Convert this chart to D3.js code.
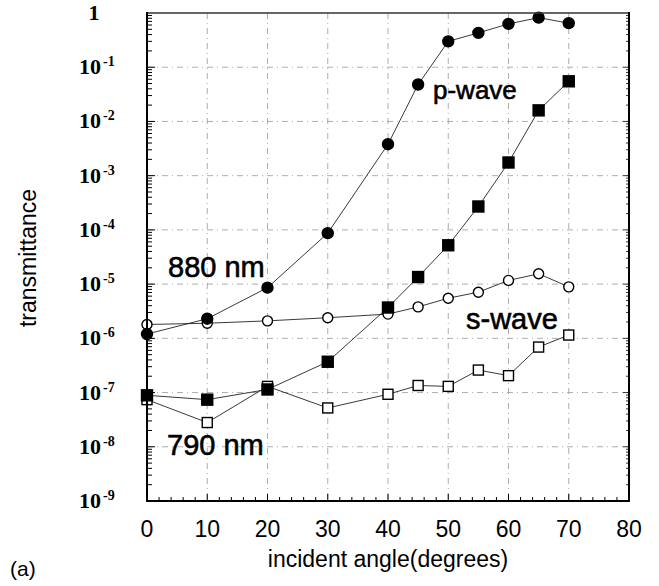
<!DOCTYPE html>
<html lang="en">
<head>
<meta charset="UTF-8">
<title>transmittance</title>
<script src="https://d3js.org/d3.v7.min.js"></script>
<style>
    body { margin: 0; background: #fff; }
    svg { display: block; }
    .grid line { stroke: #999; stroke-width: .8; stroke-dasharray: 6, 4, 1, 4; }
    .series { fill: none; stroke: #222; stroke-width: .9; }
    .xlab { font-family: "Liberation Sans", Arial, sans-serif; font-size: 23px; }
    .ylab { font-family: "Liberation Serif", "Times New Roman", serif; font-weight: bold; font-size: 22px; }
    .title { font-family: "Liberation Sans", Arial, sans-serif; font-size: 23px; }
    .note { font-family: "Liberation Sans", Arial, sans-serif; fill: #000; stroke: #000; stroke-width: .6; }
</style>
</head>
<body>
<script>
    // angles (degrees) where each curve was measured
    const angles = [0, 10, 20, 30, 40, 45, 50, 55, 60, 65, 70];
    // 880 nm, p-wave (filled circles)
    const p880 = [1.2e-6, 2.3e-6, 8.6e-6, 8.7e-5, 3.8e-3, 0.048, 0.30, 0.43, 0.63, 0.82, 0.65];
    // 790 nm, p-wave (filled squares)
    const p790 = [8.9e-8, 7.4e-8, 1.14e-7, 3.7e-7, 3.7e-6, 1.35e-5, 5.2e-5, 2.7e-4, 1.75e-3, 0.016, 0.055];
    // 880 nm, s-wave (open circles)
    const s880 = [1.8e-6, 1.9e-6, 2.1e-6, 2.4e-6, 2.8e-6, 3.8e-6, 5.5e-6, 7.1e-6, 1.17e-5, 1.55e-5, 8.9e-6];
    // 790 nm, s-wave (open squares)
    const s790 = [7.4e-8, 2.8e-8, 1.3e-7, 5.2e-8, 9.3e-8, 1.35e-7, 1.3e-7, 2.6e-7, 2.05e-7, 6.9e-7, 1.15e-6];

    const xTicks = [0, 10, 20, 30, 40, 50, 60, 70, 80];
    const yExps = [0, -1, -2, -3, -4, -5, -6, -7, -8, -9];

    const width = 659, height = 586;
    const pLeft = 147, pRight = 629, pTop = 13, pBottom = 501;

    const svg = d3.select("body").append("svg")
        .attr("width", width)
        .attr("height", height);

    const x = d3.scaleLinear().domain([0, 80]).range([pLeft, pRight]);
    const y = d3.scaleLog().domain([1e-9, 1]).range([pBottom, pTop]);

    // dash-dot grid
    const grid = svg.append("g").attr("class", "grid");
    grid.selectAll(".gx")
        .data(xTicks.filter(d => d > 0 && d < 80))
        .enter().append("line")
        .attr("x1", d => x(d)).attr("x2", d => x(d))
        .attr("y1", pTop).attr("y2", pBottom);
    grid.selectAll(".gy")
        .data(yExps.filter(e => e < 0 && e > -9))
        .enter().append("line")
        .attr("x1", pLeft).attr("x2", pRight)
        .attr("y1", e => y(Math.pow(10, e))).attr("y2", e => y(Math.pow(10, e)));

    // ticks, pointing inward
    const minorX = d3.range(0, 81, 2);
    svg.append("g").selectAll("line")
        .data(minorX)
        .enter().append("line")
        .attr("x1", d => x(d)).attr("x2", d => x(d))
        .attr("y1", pBottom)
        .attr("y2", d => pBottom - (d % 10 === 0 ? 7 : 4))
        .attr("stroke", "#000").attr("stroke-width", 1);

    const minorY = [];
    for (let k = -9; k < 0; k++) {
        for (let m = 1; m < 10; m++) minorY.push({ v: m * Math.pow(10, k), major: m === 1 });
    }
    const yt = svg.append("g");
    yt.selectAll(".tl")
        .data(minorY)
        .enter().append("line")
        .attr("x1", pLeft).attr("x2", d => pLeft + (d.major ? 8 : 5))
        .attr("y1", d => y(d.v)).attr("y2", d => y(d.v))
        .attr("stroke", "#000").attr("stroke-width", 1);
    yt.selectAll(".tr")
        .data(minorY)
        .enter().append("line")
        .attr("x1", pRight).attr("x2", d => pRight - (d.major ? 6 : 3))
        .attr("y1", d => y(d.v)).attr("y2", d => y(d.v))
        .attr("stroke", "#000").attr("stroke-width", .8);

    // curves
    const line = d3.line()
        .x(d => x(d[0]))
        .y(d => y(d[1]));

    const series = [
        { vals: s880, shape: "circle", fill: "#fff" },
        { vals: s790, shape: "square", fill: "#fff" },
        { vals: p880, shape: "circle", fill: "#000" },
        { vals: p790, shape: "square", fill: "#000" }
    ];

    series.forEach(s => {
        const pts = angles.map((a, i) => [a, s.vals[i]]);
        svg.append("path")
            .attr("class", "series")
            .attr("d", line(pts));
    });

    series.forEach(s => {
        const pts = angles.map((a, i) => [a, s.vals[i]]);
        const g = svg.append("g");
        if (s.shape === "circle") {
            g.selectAll("circle")
                .data(pts)
                .enter().append("circle")
                .attr("cx", d => x(d[0]))
                .attr("cy", d => y(d[1]))
                .attr("r", s.fill === "#000" ? 5.5 : 5)
                .attr("fill", s.fill)
                .attr("stroke", "#000")
                .attr("stroke-width", 1.4);
        } else {
            const h = s.fill === "#000" ? 5.5 : 5;
            g.selectAll("rect")
                .data(pts)
                .enter().append("rect")
                .attr("x", d => x(d[0]) - h)
                .attr("y", d => y(d[1]) - h)
                .attr("width", 2 * h)
                .attr("height", 2 * h)
                .attr("fill", s.fill)
                .attr("stroke", "#000")
                .attr("stroke-width", 1.4);
        }
    });

    // frame
    svg.append("line").attr("x1", pLeft).attr("x2", pRight).attr("y1", pTop).attr("y2", pTop)
        .attr("stroke", "#333").attr("stroke-width", 1.3);
    svg.append("line").attr("x1", pLeft).attr("x2", pLeft).attr("y1", pTop - 1).attr("y2", pBottom + 1)
        .attr("stroke", "#000").attr("stroke-width", 2);
    svg.append("line").attr("x1", pRight).attr("x2", pRight).attr("y1", pTop - 1).attr("y2", pBottom + 1)
        .attr("stroke", "#000").attr("stroke-width", 2);
    svg.append("line").attr("x1", pLeft - 1).attr("x2", pRight + 1).attr("y1", pBottom).attr("y2", pBottom)
        .attr("stroke", "#000").attr("stroke-width", 2);

    // x tick labels
    svg.append("g").selectAll("text")
        .data(xTicks)
        .enter().append("text")
        .attr("class", "xlab")
        .attr("x", d => x(d))
        .attr("y", 537)
        .attr("text-anchor", "middle")
        .text(d => d);

    // y tick labels: 1, 10^-1 ... 10^-9
    const ylabs = svg.append("g").selectAll("text")
        .data(yExps)
        .enter().append("text")
        .attr("class", "ylab")
        .attr("y", e => y(Math.pow(10, e)) + 7);
    ylabs.filter(e => e === 0)
        .attr("x", 94)
        .attr("text-anchor", "middle")
        .text("1");
    ylabs.filter(e => e !== 0)
        .attr("x", 79)
        .each(function (e) {
            const t = d3.select(this);
            t.append("tspan").text("10");
            t.append("tspan")
                .attr("dx", 2)
                .attr("dy", -8)
                .attr("font-size", 14)
                .text(e);
        });

    // axis titles
    svg.append("text")
        .attr("class", "title")
        .attr("x", (pLeft + pRight) / 2)
        .attr("y", 567)
        .attr("text-anchor", "middle")
        .text("incident angle(degrees)");
    svg.append("text")
        .attr("class", "title")
        .attr("transform", "translate(36,258) rotate(-90)")
        .attr("text-anchor", "middle")
        .text("transmittance");
    svg.append("text")
        .attr("class", "title")
        .attr("x", 10)
        .attr("y", 576)
        .style("font-size", "21px")
        .text("(a)");

    // annotations
    const notes = [
        { t: "880 nm", x: 168, y: 277, s: 29 },
        { t: "790 nm", x: 167, y: 455, s: 29 },
        { t: "p-wave", x: 433, y: 99, s: 26 },
        { t: "s-wave", x: 466, y: 329, s: 29 }
    ];
    svg.append("g").selectAll("text")
        .data(notes)
        .enter().append("text")
        .attr("class", "note")
        .attr("x", d => d.x)
        .attr("y", d => d.y)
        .style("font-size", d => d.s + "px")
        .text(d => d.t);
</script>
</body>
</html>
